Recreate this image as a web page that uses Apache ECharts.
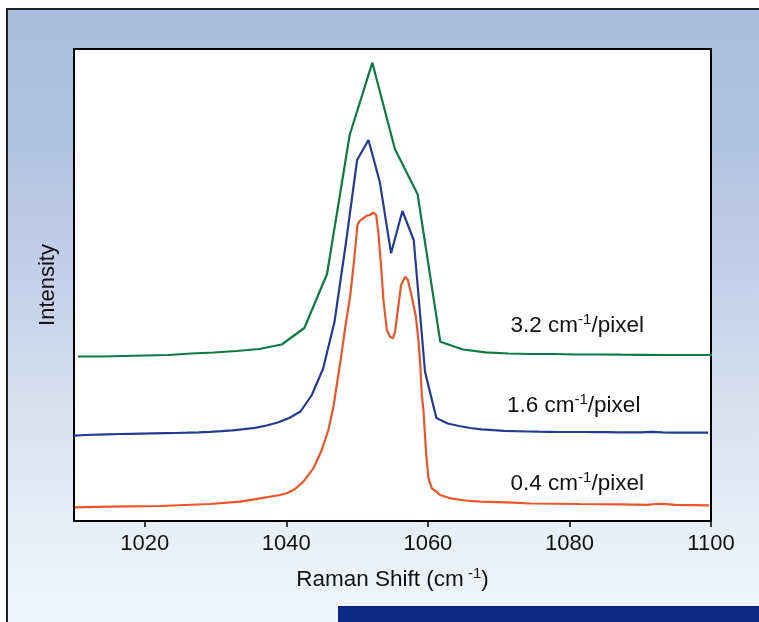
<!DOCTYPE html>
<html>
<head>
<meta charset="utf-8">
<script src="https://cdn.jsdelivr.net/npm/echarts@6/dist/echarts.min.js"></script>
<style>
  html, body { margin: 0; padding: 0; background: #fff; }
  #vis { width: 759px; height: 622px; }
</style>
</head>
<body>
<div id="vis"></div>
<script>
// Raman spectra at three sampling resolutions (arbitrary intensity units, offset per trace)
const xTicks = [1020, 1040, 1060, 1080, 1100]

const greenShift = [1010.55, 1013.75, 1016.95, 1020.15, 1023.35, 1026.55, 1029.75, 1032.95, 1036.15, 1039.35,
  1042.55, 1045.75, 1048.95, 1052.15, 1055.35, 1058.55, 1061.75, 1064.95, 1068.15, 1071.35,
  1074.55, 1077.75, 1080.95, 1084.15, 1087.35, 1090.55, 1093.75, 1096.95, 1100.15]
const greenIntensity = [164.5, 164.5, 165, 165.5, 166, 167.5, 168.5, 170, 172, 176.5,
  193, 247, 386, 458.3, 371.7, 326.7, 179.3, 171.5, 168.7, 167.5,
  167, 167, 166.5, 166.5, 166.3, 166.2, 166, 166, 166]

const blueShift = [1010, 1011.6, 1013.2, 1014.8, 1016.4, 1018, 1019.6, 1021.2, 1022.8, 1024.4,
  1026, 1027.6, 1029.2, 1030.8, 1032.4, 1034, 1035.6, 1037.2, 1038.8, 1040.4,
  1042, 1043.6, 1045.2, 1046.8, 1048.4, 1050, 1051.6, 1053.2, 1054.8, 1056.4,
  1058, 1059.6, 1061.2, 1062.8, 1064.4, 1066, 1067.6, 1069.2, 1070.8, 1072.4,
  1074, 1075.6, 1077.2, 1078.8, 1080.4, 1082, 1083.6, 1085.2, 1086.8, 1088.4,
  1090, 1091.6, 1093.2, 1094.8, 1096.4, 1098, 1099.6]
const blueIntensity = [85.3, 86, 86.3, 86.7, 87, 87.2, 87.4, 87.6, 87.8, 88,
  88.3, 88.7, 89.2, 89.8, 90.7, 91.8, 93.2, 95.5, 98.5, 103,
  109.5, 126, 152.5, 199, 277, 361, 381, 339.3, 267.7, 310,
  281, 149, 103, 97.5, 95, 93, 91.7, 90.8, 90.2, 89.8,
  89.5, 89.3, 89.2, 89, 89, 89, 88.8, 88.8, 88.7, 88.7,
  88.6, 89.2, 88.6, 88.4, 88.3, 88.3, 88.3]

const redShift = [1010.14, 1015.09, 1022.16, 1029.22, 1033.46, 1036.29, 1039.12, 1040.06, 1041.24, 1042.41,
  1043.82, 1045.01, 1045.94, 1046.65, 1047.17, 1047.78, 1048.37, 1049.01, 1049.48, 1049.79,
  1050.04, 1050.35, 1050.66, 1051.37, 1051.84, 1052.3, 1052.69, 1053.01, 1053.39, 1053.72,
  1054.2, 1054.66, 1055.05, 1055.37, 1055.75, 1056.22, 1056.78, 1057.17, 1057.73, 1058.3,
  1058.66, 1058.9, 1059.14, 1059.37, 1059.75, 1060.08, 1060.56, 1061.27, 1061.73, 1063.14,
  1065.27, 1067.39, 1072.09, 1074.45, 1081.52, 1087.17, 1090.95, 1092.12, 1093.29, 1094.95,
  1099.71]
const redIntensity = [13.7, 14.3, 15, 17, 19.3, 22.7, 26, 27.7, 32, 39.3,
  52.7, 71, 91, 114.3, 138, 166, 196, 224.3, 254.3, 276,
  296, 300, 301.7, 305.3, 306, 308.3, 306, 287.7, 254.3, 221,
  191, 184.3, 182.7, 189.3, 211, 236, 244.3, 241, 224.3, 204.3,
  181, 159, 126, 111, 67.7, 42.7, 32.7, 29, 26, 22.7,
  20.5, 19.3, 18.3, 17.5, 17, 16.7, 16.2, 17, 17.2, 16.2,
  15.7]

const traceNames = ['3.2 cm-1/pixel', '1.6 cm-1/pixel', '0.4 cm-1/pixel']
const traceColors = ['#0b7a43', '#233c93', '#ef5426']
const labelAnchors = [[1081.1, 196], [1080.6, 116], [1081.1, 38.5]]

const zip = (xs, ys) => xs.map((x, i) => [x, ys[i]])

const richText = {
  t: { fontSize: 22.5, fontFamily: 'Liberation Sans', color: '#111', lineHeight: 25, verticalAlign: 'bottom' },
  s: { fontSize: 15, fontFamily: 'Liberation Sans', color: '#111', lineHeight: 15, verticalAlign: 'top' }
}

function traceLabel (name) {
  const [num, rest] = name.split(' cm-1')
  return `{t|${num} cm}{s|-1}{t|${rest}}`
}

function makeSeries (data, idx) {
  return {
    type: 'line',
    name: traceNames[idx],
    data,
    showSymbol: false,
    symbol: 'none',
    lineStyle: { color: traceColors[idx], width: 2.2 },
    z: 3,
    markPoint: {
      symbol: 'circle',
      symbolSize: 0,
      silent: true,
      data: [{ coord: labelAnchors[idx] }],
      label: {
        show: true,
        position: 'inside',
        formatter: traceLabel(traceNames[idx]),
        rich: richText
      }
    }
  }
}

const chart = echarts.init(document.getElementById('vis'), null, { renderer: 'canvas' })

chart.setOption({
  animation: false,
  backgroundColor: '#fff',
  graphic: [
    {
      type: 'rect',
      z: -10,
      shape: { x: 7, y: 9, width: 800, height: 700 },
      style: {
        fill: {
          type: 'linear', x: 0, y: 0, x2: 0, y2: 1,
          colorStops: [
            { offset: 0, color: '#a7bfdd' },
            { offset: 0.18, color: '#adc3e1' },
            { offset: 0.36, color: '#c2cde9' },
            { offset: 0.55, color: '#d5dff0' },
            { offset: 0.78, color: '#ebf1f9' },
            { offset: 1, color: '#f8fbfe' }
          ]
        },
        stroke: '#222',
        lineWidth: 2
      }
    },
    {
      type: 'rect',
      z: -5,
      shape: { x: 338, y: 606, width: 430, height: 20 },
      style: { fill: '#0a2a86' }
    }
  ],
  grid: {
    left: 74,
    right: 48,
    top: 49,
    bottom: 101,
    show: true,
    backgroundColor: '#fff',
    borderColor: '#000',
    borderWidth: 2
  },
  xAxis: {
    type: 'value',
    min: 1010,
    max: 1100,
    name: '{t|Raman Shift (cm}{s| -1}{t|)}',
    nameLocation: 'middle',
    nameGap: 45,
    nameTextStyle: { rich: richText },
    axisLine: { show: true, lineStyle: { color: '#000', width: 2 } },
    axisTick: {
      show: true,
      inside: false,
      length: 6,
      customValues: xTicks,
      lineStyle: { color: '#000', width: 1.5 }
    },
    axisLabel: {
      customValues: xTicks,
      formatter: (v) => String(v),
      margin: 12,
      fontSize: 22,
      fontFamily: 'Liberation Sans',
      color: '#111'
    },
    splitLine: { show: false }
  },
  yAxis: {
    type: 'value',
    min: 0,
    max: 472,
    name: 'Intensity',
    nameLocation: 'middle',
    nameGap: 15,
    nameTextStyle: { fontSize: 22, fontFamily: 'Liberation Sans', color: '#111' },
    axisLine: { show: false },
    axisTick: { show: false },
    axisLabel: { show: false },
    splitLine: { show: false }
  },
  series: [
    makeSeries(zip(greenShift, greenIntensity), 0),
    makeSeries(zip(blueShift, blueIntensity), 1),
    makeSeries(zip(redShift, redIntensity), 2)
  ]
})
</script>
</body>
</html>
